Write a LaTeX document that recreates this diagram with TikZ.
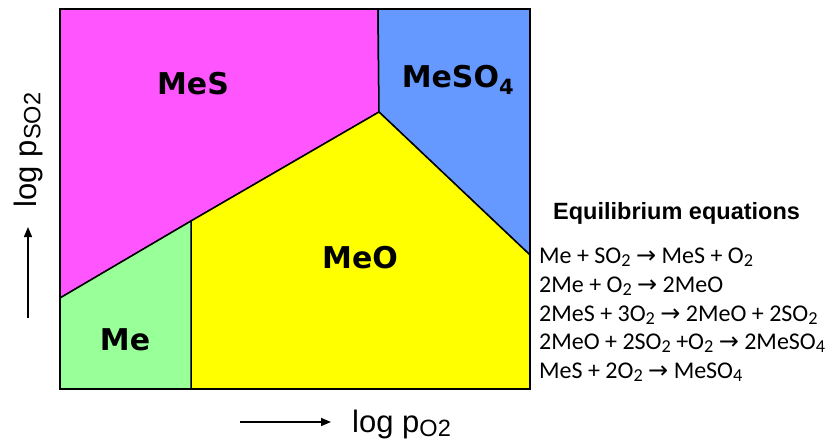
\documentclass[tikz,border=0pt]{standalone}
\usepackage{fontspec}
\usepackage{graphicx}
\setmainfont{Liberation Sans}
\newfontfamily\phasefont{DejaVu Sans}
\newfontfamily\eqfont{Carlito}
\newfontfamily\arrowfont{DejaVu Sans}
\usetikzlibrary{arrows.meta}

\definecolor{sulfidecol}{RGB}{255,85,255}
\definecolor{sulfatecol}{RGB}{102,153,255}
\definecolor{oxidecol}{RGB}{255,255,0}
\definecolor{metalcol}{RGB}{153,255,153}

\newcommand{\rarr}{{\arrowfont\char"2192}}
\newcommand{\sbs}[1]{\raisebox{-0.14em}{\scalebox{0.76}{#1}}}

\begin{document}
\begin{tikzpicture}[
    x=1pt, y=-1pt,
    phase/.style={draw=black, line width=1.5pt, line join=round},
    phaselabel/.style={font=\phasefont\bfseries\fontsize{30}{36}\selectfont, inner sep=0pt},
    axislabel/.style={font=\fontsize{31}{36}\selectfont, inner sep=0pt},
    axisarrow/.style={-{Triangle[length=10pt, width=8pt]}, line width=1.3pt},
    eqtitle/.style={font=\bfseries\fontsize{23.5}{28}\selectfont, anchor=base west, inner sep=0pt},
    eqline/.style={font=\eqfont\fontsize{24}{30}\selectfont, anchor=base west, inner sep=0pt},
]
    \useasboundingbox (0,0) rectangle (835,442);

    \coordinate (tl) at (60,9);
    \coordinate (tr) at (530,9);
    \coordinate (br) at (530,389);
    \coordinate (bl) at (60,389);
    \coordinate (topjoin) at (378,9);
    \coordinate (upperpt) at (379,112);
    \coordinate (rightjoin) at (530,255);
    \coordinate (lowerpt) at (191,221);
    \coordinate (leftjoin) at (60,298);
    \coordinate (bottomjoin) at (191,389);

    \filldraw[phase, fill=sulfidecol] (tl) -- (topjoin) -- (upperpt) -- (lowerpt) -- (leftjoin) -- cycle;
    \filldraw[phase, fill=sulfatecol] (topjoin) -- (tr) -- (rightjoin) -- (upperpt) -- cycle;
    \filldraw[phase, fill=oxidecol] (upperpt) -- (rightjoin) -- (br) -- (bottomjoin) -- (lowerpt) -- cycle;
    \filldraw[phase, fill=metalcol] (leftjoin) -- (lowerpt) -- (bottomjoin) -- (bl) -- cycle;
    \draw[line width=2pt] (tl) rectangle (br);

    \node[phaselabel] (mes) at (193,84) {MeS};
    \node[phaselabel] (meso4) at (458,80) {MeSO\textsubscript{4}};
    \node[phaselabel] (meo) at (360,258) {MeO};
    \node[phaselabel] (me) at (125,340) {Me};

    \node[axislabel, rotate=90] (ylab) at (28,150) {log p\sbs{SO2}};
    \node[axislabel, anchor=base west] (xlab) at (352,432) {log p\sbs{O2}};
    \coordinate (yfoot) at (28,318);
    \coordinate (yhead) at (28,227);
    \coordinate (xfoot) at (240,422);
    \coordinate (xhead) at (331,422);
    \draw[axisarrow] (yfoot) -- (yhead);
    \draw[axisarrow] (xfoot) -- (xhead);

    \node[eqtitle] (eqhead) at (553,219) {Equilibrium equations};
    \node[eqline] (eq1) at (539,263) {Me + SO\sbs{2} \rarr{} MeS + O\sbs{2}};
    \node[eqline] (eq2) at (539,292) {2Me + O\sbs{2} \rarr{} 2MeO};
    \node[eqline] (eq3) at (539,321) {2MeS + 3O\sbs{2} \rarr{} 2MeO + 2SO\sbs{2}};
    \node[eqline] (eq4) at (539,349) {2MeO + 2SO\sbs{2} +O\sbs{2} \rarr{} 2MeSO\sbs{4}};
    \node[eqline] (eq5) at (539,378) {MeS + 2O\sbs{2} \rarr{} MeSO\sbs{4}};
\end{tikzpicture}
\end{document}
